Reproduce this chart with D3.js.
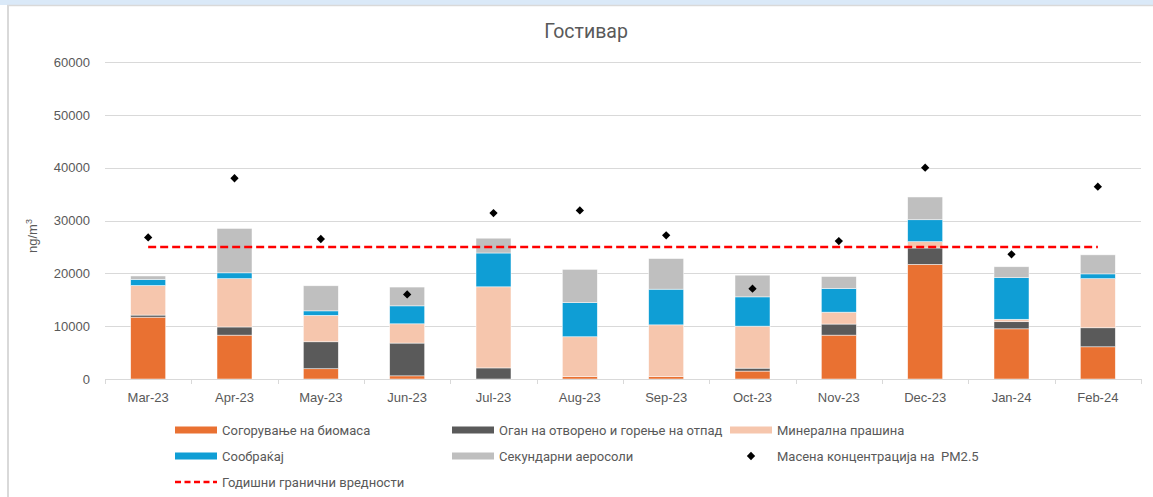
<!DOCTYPE html>
<html>
<head>
<meta charset="utf-8">
<script src="https://cdn.jsdelivr.net/npm/d3@7"></script>
<style>
    body { margin: 0; background: #ffffff; }
    svg { display: block; }
    text { white-space: pre; }
</style>
</head>
<body>
<div id="chart"></div>
<script>
    var months = ["Mar-23", "Apr-23", "May-23", "Jun-23", "Jul-23", "Aug-23", "Sep-23", "Oct-23", "Nov-23", "Dec-23", "Jan-24", "Feb-24"];
    var biomass = [11700, 8300, 1950, 600, 0, 450, 450, 1500, 8300, 21700, 9500, 6100];
    var openFire = [400, 1550, 5100, 6200, 2100, 0, 0, 550, 2100, 3100, 1350, 3600];
    var mineral = [5600, 9150, 5000, 3650, 15350, 7550, 9800, 7950, 2250, 1200, 450, 9300];
    var traffic = [1150, 1100, 850, 3400, 6400, 6450, 6750, 5550, 4500, 4150, 7900, 900];
    var secondary = [650, 8400, 4750, 3550, 2800, 6300, 5800, 4100, 2250, 4300, 2050, 3600];
    var pm25 = [26800, 38000, 26500, 16000, 31400, 31900, 27200, 17100, 26100, 40000, 23600, 36400];
    var limit = [25000, 25000, 25000, 25000, 25000, 25000, 25000, 25000, 25000, 25000, 25000, 25000];
    var yTicks = [0, 10000, 20000, 30000, 40000, 50000, 60000];

    var seriesNames = ["Согорување на биомаса", "Оган на отворено и горење на отпад", "Минерална прашина", "Сообраќај", "Секундарни аеросоли"];
    var seriesColors = ["#E97132", "#5A5A5A", "#F6C6AD", "#0F9ED5", "#BFBFBF"];
    var stackData = [biomass, openFire, mineral, traffic, secondary];

    var W = 1153, H = 497;
    var textColor = "#595959";

    var svg = d3.select("#chart").append("svg").attr("width", W).attr("height", H);

    // frame: light blue strip on top, grey border of the chart box
    svg.append("rect").attr("x", 0).attr("y", 0).attr("width", W).attr("height", 5).attr("fill", "#DAE9F8");
    svg.append("line").attr("x1", 7).attr("x2", W).attr("y1", 5.5).attr("y2", 5.5).attr("stroke", "#D9D9D9").attr("stroke-width", 1.5);
    svg.append("line").attr("x1", 8).attr("x2", 8).attr("y1", 5).attr("y2", H).attr("stroke", "#D9D9D9").attr("stroke-width", 2);

    svg.append("text").attr("x", 586).attr("y", 38).attr("text-anchor", "middle")
        .attr("font-family", "Roboto, 'Noto Sans', sans-serif").attr("font-size", 19.5).attr("fill", textColor)
        .text("Гостивар");

    var x = d3.scaleBand().domain(months).range([105, 1141]).paddingInner(0).paddingOuter(0);
    var y = d3.scaleLinear().domain([0, 60000]).range([379, 62]);
    var barW = 35;

    // gridlines
    svg.append("g").selectAll("line").data(yTicks.slice(1)).enter().append("line")
        .attr("x1", 105).attr("x2", 1141)
        .attr("y1", function (d) { return Math.round(y(d)) + 0.5; })
        .attr("y2", function (d) { return Math.round(y(d)) + 0.5; })
        .attr("stroke", "#D9D9D9").attr("stroke-width", 1);

    // y axis labels
    var yAxis = d3.axisLeft(y).tickValues(yTicks).tickSize(0).tickPadding(15).tickFormat(d3.format("d"));
    var yg = svg.append("g").attr("transform", "translate(105,0)").call(yAxis);
    yg.select(".domain").remove();
    yg.selectAll("text").attr("font-family", "'Liberation Sans', Arial, sans-serif").attr("font-size", 13).attr("fill", textColor);

    var yt = svg.append("text").attr("transform", "translate(37,236) rotate(-90)").attr("text-anchor", "middle")
        .attr("font-family", "'Liberation Sans', Arial, sans-serif").attr("font-size", 13).attr("fill", textColor);
    yt.append("tspan").text("ng/m");
    yt.append("tspan").attr("font-size", 9).attr("dy", -5).text("3");

    // stacked bars
    var rows = months.map(function (m, i) {
        var r = { month: m };
        stackData.forEach(function (s, k) { r["s" + k] = s[i]; });
        return r;
    });
    var stack = d3.stack().keys(seriesNames.map(function (d, k) { return "s" + k; }));
    var layers = stack(rows);

    svg.append("g").selectAll("g").data(layers).enter().append("g")
        .attr("fill", function (d, k) { return seriesColors[k]; })
        .selectAll("rect").data(function (d) { return d; }).enter().append("rect")
        .attr("x", function (d) { return x(d.data.month) + x.bandwidth() / 2 - barW / 2; })
        .attr("width", barW)
        .attr("y", function (d) { return y(d[1]); })
        .attr("height", function (d) { return Math.max(0, y(d[0]) - y(d[1])); })
        .attr("stroke", "#FFFFFF").attr("stroke-opacity", 0.7).attr("stroke-width", function (d) { return d[1] - d[0] > 0 ? 0.7 : 0; });

    // x axis
    var xg = svg.append("g").attr("transform", "translate(0,379)");
    xg.append("line").attr("x1", 105).attr("x2", 1141).attr("y1", 0.5).attr("y2", 0.5).attr("stroke", "#D9D9D9");
    var bounds = months.map(function (m) { return x(m); }).concat([x.range()[1]]);
    xg.selectAll("line.tick").data(bounds).enter().append("line").attr("class", "tick")
        .attr("x1", function (d) { return Math.round(d) + 0.5; }).attr("x2", function (d) { return Math.round(d) + 0.5; })
        .attr("y1", 0).attr("y2", 5).attr("stroke", "#D9D9D9");
    xg.selectAll("text").data(months).enter().append("text")
        .attr("x", function (d) { return x(d) + x.bandwidth() / 2; }).attr("y", 23).attr("text-anchor", "middle")
        .attr("font-family", "'Liberation Sans', Arial, sans-serif").attr("font-size", 13).attr("fill", textColor)
        .text(function (d) { return d; });

    // limit line
    var line = d3.line().x(function (d, i) { return x(months[i]) + x.bandwidth() / 2; }).y(function (d) { return y(d); });
    svg.append("path").datum(limit).attr("d", line).attr("fill", "none")
        .attr("stroke", "#FF0000").attr("stroke-width", 2.5).attr("stroke-dasharray", "8,4");

    // PM2.5 points
    var diamond = d3.symbol().type(d3.symbolDiamond2).size(44);
    svg.append("g").selectAll("path").data(pm25).enter().append("path")
        .attr("d", diamond)
        .attr("transform", function (d, i) { return "translate(" + (x(months[i]) + x.bandwidth() / 2) + "," + y(d) + ")"; })
        .attr("fill", "#000000");

    // legend
    var legendFont = "Roboto, 'Noto Sans', sans-serif";
    var legendItems = [
        { label: seriesNames[0], type: "bar", color: seriesColors[0], x: 175, y: 430 },
        { label: seriesNames[1], type: "bar", color: seriesColors[1], x: 452, y: 430 },
        { label: seriesNames[2], type: "bar", color: seriesColors[2], x: 730, y: 430 },
        { label: seriesNames[3], type: "bar", color: seriesColors[3], x: 175, y: 456 },
        { label: seriesNames[4], type: "bar", color: seriesColors[4], x: 452, y: 456 },
        { label: "Масена концентрација на  PM2.5", type: "dot", color: "#000000", x: 730, y: 456 },
        { label: "Годишни гранични вредности", type: "line", color: "#FF0000", x: 175, y: 482 }
    ];
    var lg = svg.append("g").selectAll("g").data(legendItems).enter().append("g")
        .attr("transform", function (d) { return "translate(" + d.x + "," + d.y + ")"; });
    lg.filter(function (d) { return d.type === "bar"; }).append("rect")
        .attr("x", 0).attr("y", -3.5).attr("width", 42).attr("height", 7).attr("fill", function (d) { return d.color; });
    lg.filter(function (d) { return d.type === "dot"; }).append("path")
        .attr("d", diamond).attr("transform", "translate(21,0)").attr("fill", "#000000");
    lg.filter(function (d) { return d.type === "line"; }).append("line")
        .attr("x1", 0).attr("x2", 42).attr("y1", 0).attr("y2", 0)
        .attr("stroke", "#FF0000").attr("stroke-width", 2.5).attr("stroke-dasharray", "6,3.5");
    lg.append("text").attr("x", 47).attr("y", 4.5)
        .attr("font-family", legendFont).attr("font-size", 13).attr("fill", textColor)
        .text(function (d) { return d.label; });
</script>
</body>
</html>
